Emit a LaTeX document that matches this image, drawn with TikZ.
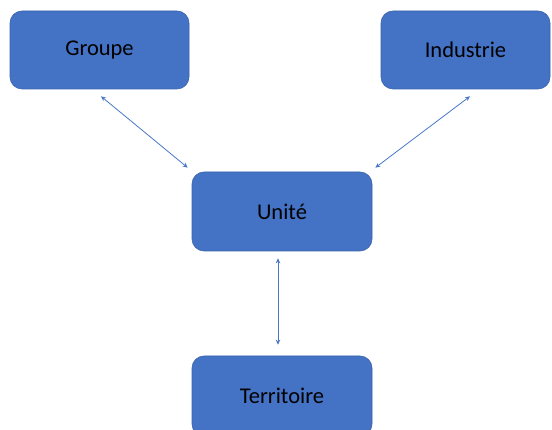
\documentclass[tikz,border=0pt]{standalone}
\usepackage{fontspec}
\setmainfont{Carlito}
\usetikzlibrary{calc,arrows.meta}
\definecolor{boxfill}{HTML}{4472C4}
\definecolor{boxline}{HTML}{3A63AE}
\definecolor{arrowcol}{HTML}{4A78C8}
\tikzset{
  box/.style={rectangle, rounded corners=12pt, fill=boxfill, draw=boxline, line width=0.6pt,
    inner sep=0pt, font=\fontsize{22.5}{26}\selectfont, text=black},
  link/.style={draw=arrowcol, line width=0.8pt,
    {Stealth[length=5pt,width=4.5pt]}-{Stealth[length=5pt,width=4.5pt]}}
}
\begin{document}
\begin{tikzpicture}[x=1pt,y=-1pt]
\useasboundingbox (0,0) rectangle (552,430);
\clip (0,0) rectangle (552,430);
\node[box, minimum width=179pt, minimum height=78pt] (g) at (99.5,50) {Groupe};
\node[box, minimum width=169pt, minimum height=78pt] (i) at (465.5,50) {Industrie};
\node[box, minimum width=180pt, minimum height=79pt] (u) at (282,211.5) {Unité};
\node[box, minimum width=180pt, minimum height=80pt] (t) at (282,396) {Territoire};
\draw[link] ($(g.south)+(1.5,7)$) -- ($(u.north west)+(-4,-4)$);
\draw[link] ($(i.south)+(4.5,7)$) -- ($(u.north east)+(3,-4)$);
\draw[link] ($(u.south)+(-4,7)$) -- ($(t.north)+(-4,-11)$);
\end{tikzpicture}
\end{document}
